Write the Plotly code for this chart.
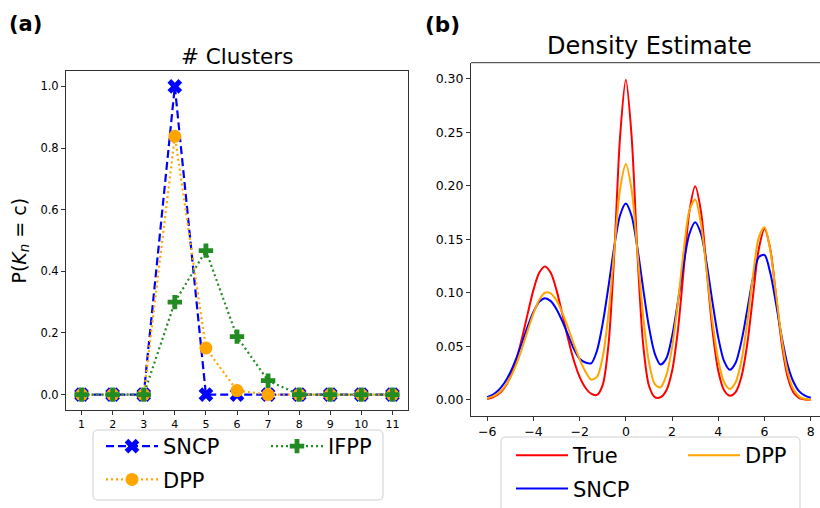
import plotly.graph_objects as go

# ---------------- data ----------------
clusters = [1, 2, 3, 4, 5, 6, 7, 8, 9, 10, 11]
sncp_k = [0, 0, 0, 1.0, 0, 0, 0, 0, 0, 0, 0]
dpp_k = [0, 0, 0, 0.838, 0.151, 0.013, 0.0, 0, 0, 0, 0]
ifpp_k = [0, 0, 0, 0.300, 0.467, 0.188, 0.045, 0, 0, 0, 0]

left_yticks = [0.0, 0.2, 0.4, 0.6, 0.8, 1.0]
left_yticklabels = ["0.0", "0.2", "0.4", "0.6", "0.8", "1.0"]

grid_x = [-6.0, -5.75, -5.5, -5.25, -5.0, -4.75, -4.5, -4.25, -4.0, -3.75, -3.5,
          -3.25, -3.0, -2.75, -2.5, -2.25, -2.0, -1.75, -1.5, -1.25, -1.0,
          -0.75, -0.5, -0.25, 0.0, 0.25, 0.5, 0.75, 1.0, 1.25, 1.5, 1.75, 2.0,
          2.25, 2.5, 2.75, 3.0, 3.25, 3.5, 3.75, 4.0, 4.25, 4.5, 4.75, 5.0,
          5.25, 5.5, 5.75, 6.0, 6.25, 6.5, 6.75, 7.0, 7.25, 7.5, 7.75, 8.0]

true_density = [0.0009, 0.0024, 0.0055, 0.0114, 0.0215, 0.0368, 0.0571, 0.0804, 0.1026, 0.1188, 0.1247,
                0.1188, 0.1026, 0.0804, 0.0571, 0.0368, 0.0215, 0.0114, 0.0058, 0.0047, 0.0141,
                0.0519, 0.1370, 0.2460, 0.2990, 0.2460, 0.1369, 0.0515, 0.0132, 0.0027, 0.0025, 0.0088, 0.0270,
                0.0648, 0.1210, 0.1761, 0.1995, 0.1761, 0.1210, 0.0648, 0.0271, 0.0091, 0.0040, 0.0074, 0.0217,
                0.0518, 0.0968, 0.1408, 0.1596, 0.1408, 0.0968, 0.0518, 0.0216, 0.0070, 0.0018, 0.0004, 0.0001]

dpp_density = [0.0016, 0.0033, 0.0066, 0.0122, 0.0207, 0.0327, 0.0477, 0.0645, 0.0806, 0.0934, 0.1001,
               0.0996, 0.0930, 0.0815, 0.0672, 0.0520, 0.0379, 0.0266, 0.0190, 0.0215, 0.0403,
               0.0808, 0.1401, 0.1967, 0.2203, 0.1961, 0.1386, 0.0779, 0.0353, 0.0148, 0.0117, 0.0229, 0.0493,
               0.0908, 0.1392, 0.1772, 0.1873, 0.1645, 0.1200, 0.0727, 0.0368, 0.0166, 0.0103, 0.0165, 0.0368,
               0.0721, 0.1159, 0.1516, 0.1613, 0.1396, 0.0983, 0.0562, 0.0262, 0.0099, 0.0031, 0.0008, 0.0002]

sncp_density = [0.0025, 0.0050, 0.0093, 0.0160, 0.0256, 0.0383, 0.0531, 0.0685, 0.0821, 0.0916, 0.0950,
                0.0923, 0.0848, 0.0736, 0.0607, 0.0478, 0.0385, 0.0350, 0.0342, 0.0460, 0.0716,
                0.1062, 0.1434, 0.1725, 0.1834, 0.1718, 0.1420, 0.1038, 0.0682, 0.0433, 0.0330, 0.0387, 0.0594,
                0.0914, 0.1270, 0.1552, 0.1660, 0.1552, 0.1269, 0.0910, 0.0582, 0.0362, 0.0281, 0.0347, 0.0547,
                0.0838, 0.1136, 0.1334, 0.1354, 0.1185, 0.0895, 0.0583, 0.0327, 0.0170, 0.0080, 0.0040, 0.0020]

right_xticks = [-6, -4, -2, 0, 2, 4, 6, 8]
right_xticklabels = ["\u22126", "\u22124", "\u22122", "0", "2", "4", "6", "8"]
right_yticks = [0.0, 0.05, 0.10, 0.15, 0.20, 0.25, 0.30]
right_yticklabels = ["0.00", "0.05", "0.10", "0.15", "0.20", "0.25", "0.30"]

# ---------------- layout helpers ----------------
W, H = 820, 508
FONT = "DejaVu Sans"
FRAME = "#333333"


def px(p):
    return p / W


def py(p):
    return 1 - p / H


def rrect(x0, y0, x1, y1, r=5):
    X = lambda v: px(v)
    Y = lambda v: py(v)
    return (f"M {X(x0 + r)},{Y(y0)} L {X(x1 - r)},{Y(y0)} Q {X(x1)},{Y(y0)} {X(x1)},{Y(y0 + r)} "
            f"L {X(x1)},{Y(y1 - r)} Q {X(x1)},{Y(y1)} {X(x1 - r)},{Y(y1)} "
            f"L {X(x0 + r)},{Y(y1)} Q {X(x0)},{Y(y1)} {X(x0)},{Y(y1 - r)} "
            f"L {X(x0)},{Y(y0 + r)} Q {X(x0)},{Y(y0)} {X(x0 + r)},{Y(y0)} Z")


fig = go.Figure()

# ---- panel (a) ----
fig.add_trace(go.Scatter(x=clusters, y=sncp_k, name="SNCP", mode="lines+markers",
                         line=dict(color="#0000ff", width=2.2, dash="8px,4px"),
                         marker=dict(symbol="x", size=13, color="#0000ff"),
                         xaxis="x", yaxis="y", legend="legend", legendgroup="g1"))
fig.add_trace(go.Scatter(x=clusters, y=dpp_k, name="DPP", mode="lines+markers",
                         line=dict(color="#ffa500", width=2.2, dash="2px,3px"),
                         marker=dict(symbol="circle", size=13, color="#ffa500"),
                         xaxis="x", yaxis="y", legend="legend", legendgroup="g2"))
fig.add_trace(go.Scatter(x=clusters, y=ifpp_k, name="IFPP", mode="lines+markers",
                         line=dict(color="#228b22", width=2.2, dash="2px,3px"),
                         marker=dict(symbol="cross", size=12, color="#228b22"),
                         xaxis="x", yaxis="y", legend="legend2", legendgroup="g3"))

# ---- panel (b) ----
fig.add_trace(go.Scatter(x=grid_x, y=true_density, name="True", mode="lines",
                         line=dict(color="#ff0000", width=2, shape="spline", smoothing=0.8),
                         xaxis="x2", yaxis="y2", legend="legend3", legendgroup="h1"))
fig.add_trace(go.Scatter(x=grid_x, y=sncp_density, name="SNCP", mode="lines",
                         line=dict(color="#0000ff", width=2, shape="spline", smoothing=0.8),
                         xaxis="x2", yaxis="y2", legend="legend3", legendgroup="h2"))
fig.add_trace(go.Scatter(x=grid_x, y=dpp_density, name="DPP", mode="lines",
                         line=dict(color="#ffa500", width=2, shape="spline", smoothing=0.8),
                         xaxis="x2", yaxis="y2", legend="legend4", legendgroup="h3"))

axis_common = dict(showgrid=False, zeroline=False, showline=True, linecolor=FRAME, linewidth=1,
                   ticks="outside", ticklen=4, tickwidth=1, tickcolor=FRAME, automargin=False,
                   fixedrange=True)

legend_common = dict(xanchor="left", yanchor="top", bgcolor="rgba(0,0,0,0)", borderwidth=0,
                     font=dict(family=FONT, size=21, color="black"), itemwidth=52,
                     traceorder="grouped", tracegroupgap=3, orientation="v")

fig.update_layout(
    width=W, height=H, template="none",
    paper_bgcolor="white", plot_bgcolor="white",
    margin=dict(l=0, r=0, t=0, b=0, pad=0, autoexpand=False),
    font=dict(family=FONT, color="black"),
    xaxis=dict(domain=[px(66), px(408)], range=[0.5, 11.5], tickmode="array",
               tickvals=clusters, ticktext=[str(c) for c in clusters],
               tickfont=dict(size=11), mirror=True, anchor="y", **axis_common),
    yaxis=dict(domain=[py(410), py(71)], range=[-0.05, 1.05], tickmode="array",
               tickvals=left_yticks, ticktext=left_yticklabels,
               tickfont=dict(size=11.5), mirror=True, anchor="x", **axis_common),
    xaxis2=dict(domain=[px(471), 1.0], range=[-6.7, 8.40], tickmode="array",
                tickvals=right_xticks, ticktext=right_xticklabels,
                tickfont=dict(size=12.5), mirror=False, anchor="y2", **axis_common),
    yaxis2=dict(domain=[py(416), py(62.7)], range=[-0.015, 0.315], tickmode="array",
                tickvals=right_yticks, ticktext=right_yticklabels,
                tickfont=dict(size=12.5), mirror=False, anchor="x2", **axis_common),
    showlegend=True,
    legend=dict(x=px(101), y=py(426), **legend_common),
    legend2=dict(x=px(266), y=py(426), **legend_common),
    legend3=dict(x=px(511), y=py(435), **legend_common),
    legend4=dict(x=px(683), y=py(435), **legend_common),
)

annotations = [
    dict(text="<b>(a)</b>", x=px(25.5), y=py(24), xref="paper", yref="paper",
         xanchor="center", yanchor="middle", showarrow=False, font=dict(size=21, family=FONT)),
    dict(text="<b>(b)</b>", x=px(442.5), y=py(24), xref="paper", yref="paper",
         xanchor="center", yanchor="middle", showarrow=False, font=dict(size=21.5, family=FONT)),
    dict(text="# Clusters", x=px(237), y=py(56), xref="paper", yref="paper",
         xanchor="center", yanchor="middle", showarrow=False, font=dict(size=21.5, family=FONT)),
    dict(text="Density Estimate", x=px(649), y=py(46), xref="paper", yref="paper",
         xanchor="center", yanchor="middle", showarrow=False, font=dict(size=24, family=FONT)),
    dict(text="P(<i>K</i><sub><i>n</i></sub> = c)", x=px(20), y=py(240.5), xref="paper", yref="paper",
         xanchor="center", yanchor="middle", showarrow=False, textangle=-90,
         font=dict(size=19, family=FONT)),
]
fig.update_layout(annotations=annotations)

shapes = [
    dict(type="path", path=rrect(93, 430, 383, 500), xref="paper", yref="paper",
         line=dict(color="#d0d0d0", width=1), fillcolor="rgba(255,255,255,0.8)", layer="below"),
    dict(type="path", path=rrect(501, 437, 800, 530), xref="paper", yref="paper",
         line=dict(color="#d0d0d0", width=1), fillcolor="rgba(255,255,255,0.8)", layer="below"),
    dict(type="line", x0=px(471), x1=px(830), y0=py(62.7), y1=py(62.7), xref="paper", yref="paper",
         line=dict(color=FRAME, width=1)),
]
fig.update_layout(shapes=shapes)

fig.write_html("out.html", config={"displayModeBar": False, "staticPlot": True},
               post_script="document.body.style.margin='0';document.body.style.overflow='hidden';")
